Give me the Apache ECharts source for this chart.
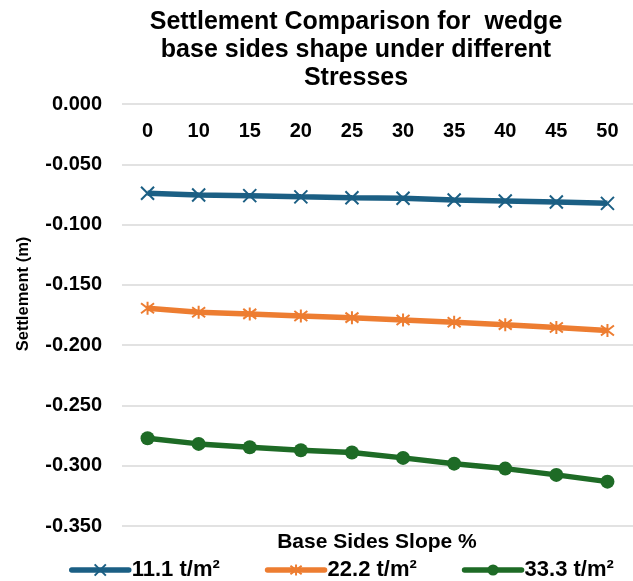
<!DOCTYPE html>
<html>
<head>
<meta charset="utf-8">
<script src="https://cdn.jsdelivr.net/npm/echarts@6/dist/echarts.min.js"></script>
<style>
  html, body { margin: 0; padding: 0; background: #fff; }
  #chart { width: 633px; height: 581px; }
</style>
</head>
<body>
<div id="chart"></div>
<script>
// Base sides slope (%) categories
const slopes = ['0', '10', '15', '20', '25', '30', '35', '40', '45', '50'];

// Settlement (m) for each applied stress
const stress11 = [-0.074, -0.0755, -0.076, -0.077, -0.0777, -0.0782, -0.0796, -0.0804, -0.0813, -0.0824];
const stress22 = [-0.1694, -0.1727, -0.1741, -0.1758, -0.1772, -0.1791, -0.181, -0.183, -0.1854, -0.1879];
const stress33 = [-0.2772, -0.2819, -0.2847, -0.2872, -0.2891, -0.2935, -0.2983, -0.3024, -0.3076, -0.3132];

const seriesNames = ['11.1 t/m²', '22.2 t/m²', '33.3 t/m²'];
const yTicks = { min: -0.35, max: 0, step: 0.05 };

const FONT = 'Arial, "Liberation Sans", sans-serif';
const BLUE = '#1B5F84';
const ORANGE = '#ED7D31';
const GREEN = '#1E6B26';

const crossPath = 'path://M0,0L10,10M10,0L0,10';
const starPath = 'path://M0,0L10,10M10,0L0,10M5,-1.5L5,11.5';

const chart = echarts.init(document.getElementById('chart'), null, { renderer: 'canvas' });

chart.setOption({
  animation: false,
  backgroundColor: '#fff',
  textStyle: { fontFamily: FONT },
  title: {
    text: 'Settlement Comparison for  wedge\nbase sides shape under different\nStresses',
    left: 351,
    textAlign: 'center',
    top: 3,
    textStyle: { fontFamily: FONT, fontSize: 25, fontWeight: 'bold', color: '#000', lineHeight: 28 }
  },
  grid: { left: 122, right: -4, top: 104, bottom: 55, containLabel: false },
  legend: {
    left: 64,
    top: 554,
    itemWidth: 57,
    itemHeight: 14,
    itemGap: 45,
    lineStyle: { width: 5.5, cap: 'round' },
    textStyle: { fontFamily: FONT, fontSize: 22, fontWeight: 'bold', color: '#000', padding: [0, 0, 0, -2] },
    data: seriesNames
  },
  graphic: [
    {
      type: 'text',
      x: 377,
      y: 542,
      style: {
        text: 'Base Sides Slope %',
        fontFamily: FONT,
        fontSize: 21,
        fontWeight: 'bold',
        fill: '#000',
        align: 'center',
        verticalAlign: 'middle'
      }
    },
    {
      type: 'text',
      x: 23,
      y: 294,
      rotation: Math.PI / 2,
      style: {
        text: 'Settlement (m)',
        fontFamily: FONT,
        fontSize: 16.5,
        fontWeight: 'bold',
        fill: '#000',
        align: 'center',
        verticalAlign: 'middle'
      }
    }
  ],
  xAxis: {
    type: 'category',
    position: 'top',
    data: slopes,
    boundaryGap: true,
    axisLine: { show: false },
    axisTick: { show: false },
    axisLabel: {
      inside: true,
      margin: 17,
      fontFamily: FONT,
      fontSize: 20,
      fontWeight: 'bold',
      color: '#000'
    },
    splitLine: { show: false }
  },
  yAxis: {
    type: 'value',
    min: yTicks.min,
    max: yTicks.max,
    interval: yTicks.step,
    axisLine: { show: false },
    axisTick: { show: false },
    axisLabel: {
      margin: 20,
      fontFamily: FONT,
      fontSize: 20,
      fontWeight: 'bold',
      color: '#000',
      formatter: v => (Math.abs(v) < 1e-9 ? 0 : v).toFixed(3)
    },
    splitLine: { lineStyle: { color: '#D9D9D9', width: 1.5 } }
  },
  series: [
    {
      name: seriesNames[0],
      type: 'line',
      data: stress11,
      symbol: crossPath,
      symbolSize: 13,
      showAllSymbol: true,
      lineStyle: { color: BLUE, width: 5.5 },
      itemStyle: { color: BLUE, borderColor: BLUE, borderWidth: 2 }
    },
    {
      name: seriesNames[1],
      type: 'line',
      data: stress22,
      symbol: starPath,
      symbolSize: 13,
      showAllSymbol: true,
      lineStyle: { color: ORANGE, width: 5.5 },
      itemStyle: { color: ORANGE, borderColor: ORANGE, borderWidth: 2 }
    },
    {
      name: seriesNames[2],
      type: 'line',
      data: stress33,
      symbol: 'circle',
      symbolSize: 14,
      showAllSymbol: true,
      lineStyle: { color: GREEN, width: 5.5 },
      itemStyle: { color: GREEN, borderWidth: 0 }
    }
  ]
});
</script>
</body>
</html>
